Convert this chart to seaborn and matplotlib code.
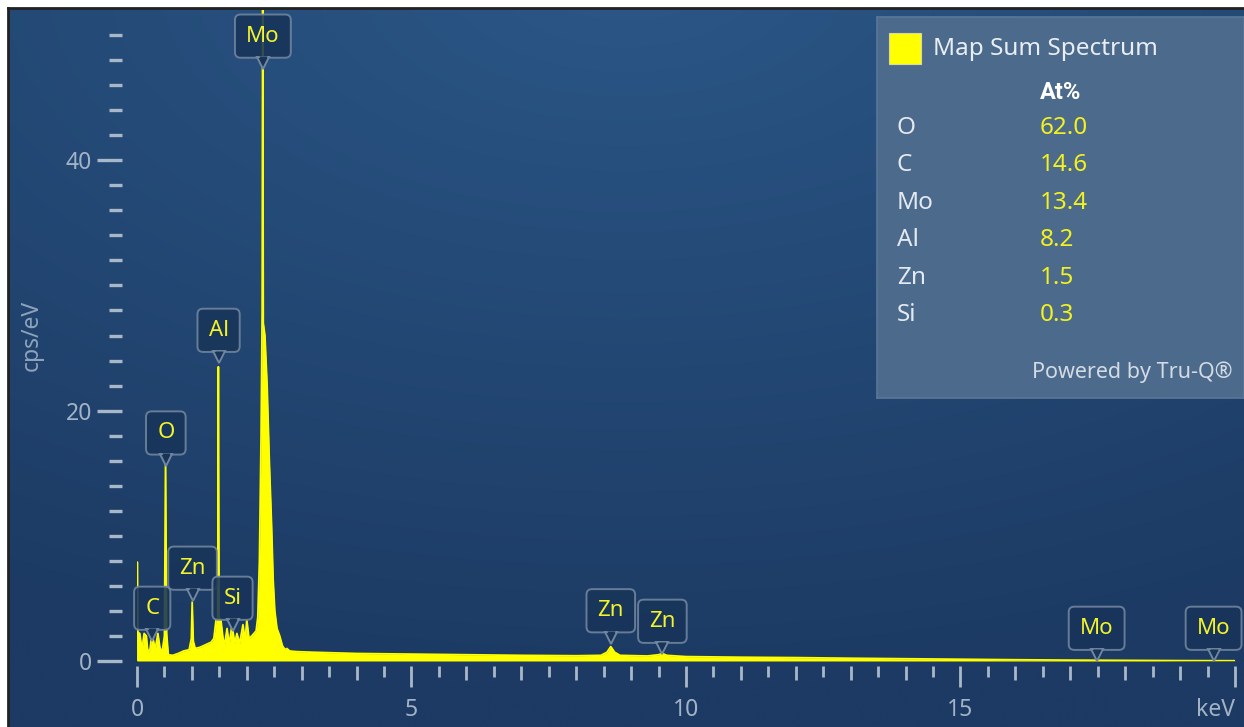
import numpy as np
import matplotlib
matplotlib.use("Agg")
import matplotlib.pyplot as plt
import seaborn as sns
import pandas as pd
from matplotlib.transforms import offset_copy
from matplotlib.patches import Rectangle

# ---------------- data ----------------
energy_kev = [0.000, 0.005, 0.015, 0.050, 0.090, 0.130, 0.170, 0.200, 0.240, 0.270,
              0.300, 0.330, 0.380, 0.420, 0.460, 0.500, 0.520, 0.540, 0.570, 0.650,
              0.750, 0.850, 0.950, 0.990, 1.005, 1.025, 1.060, 1.150, 1.250, 1.350,
              1.400, 1.440, 1.470, 1.482, 1.495, 1.530, 1.570, 1.600, 1.640, 1.680,
              1.730, 1.780, 1.820, 1.870, 1.930, 1.970, 2.000, 2.040, 2.090, 2.130,
              2.170, 2.200, 2.230, 2.260, 2.280, 2.290, 2.300, 2.330, 2.370, 2.410,
              2.450, 2.480, 2.510, 2.550, 2.600, 2.650, 2.700, 2.730, 2.780, 2.900,
              3.200, 3.600, 4.000, 5.000, 6.000, 7.000, 8.000, 8.450, 8.560, 8.630,
              8.700, 8.800, 9.300, 9.500, 9.570, 9.650, 10.00, 11.00, 12.00, 13.00,
              14.00, 15.00, 16.00, 17.00, 18.00, 19.00, 20.00]
cps_per_ev = [0.0, 7.9, 2.3, 2.2, 0.9, 2.2, 2.0, 0.6, 1.0, 2.2,
              1.6, 0.9, 2.2, 1.0, 0.8, 2.0, 16.1, 2.2, 0.5, 0.45,
              0.6, 0.8, 0.9, 1.8, 4.7, 1.6, 1.0, 1.1, 1.3, 1.5,
              1.8, 3.3, 3.4, 23.5, 3.5, 3.2, 1.7, 1.4, 2.6, 1.3,
              2.9, 1.4, 2.2, 1.4, 2.9, 1.6, 3.3, 1.8, 2.0, 2.2,
              2.4, 3.5, 8.0, 18.0, 28.0, 55.0, 27.0, 26.0, 22.0, 16.0,
              11.0, 6.5, 4.0, 2.6, 2.0, 1.2, 0.9, 1.0, 0.8, 0.75,
              0.7, 0.65, 0.6, 0.55, 0.5, 0.45, 0.42, 0.45, 0.7, 1.15,
              0.7, 0.45, 0.4, 0.5, 0.6, 0.45, 0.35, 0.3, 0.27, 0.22,
              0.18, 0.14, 0.1, 0.07, 0.05, 0.03, 0.02]

peak_labels = ["C", "O", "Zn", "Al", "Si", "Mo", "Zn", "Zn", "Mo", "Mo"]
peak_energy = [0.277, 0.525, 1.012, 1.486, 1.740, 2.293, 8.630, 9.570, 17.48, 19.61]
peak_tip_cps = [1.6, 15.6, 4.8, 23.8, 2.4, 47.3, 1.4, 0.56, 0.0, 0.0]

legend_title = "Map Sum Spectrum"
table_header = "At%"
elements = ["O", "C", "Mo", "Al", "Zn", "Si"]
at_percent = ["62.0", "14.6", "13.4", "8.2", "1.5", "0.3"]
footer = "Powered by Tru-Q®"

x_major = [0, 5, 10, 15, 20]
x_major_labels = ["0", "5", "10", "15", "keV"]
y_major = [0, 20, 40]
y_label = "cps/eV"

# ---------------- style ----------------
sns.set_style("white")
plt.rcParams["font.family"] = ["Noto Sans", "DejaVu Sans"]

W, H = 1244, 727
fig = plt.figure(figsize=(W / 100, H / 100), dpi=100, facecolor="white")

YELLOW = "#ffff00"
TICK_C = "#a9b8c9"
LABEL_C = "#a3b3c6"
BOX_FC = "#183459"
BOX_EC = "#71869f"

# background panel with soft gradient
bg = fig.add_axes([8 / W, 0, 1 - 8 / W, (H - 8) / H])
gy, gx = np.mgrid[0:1:300j, 0:1:400j]
d = np.sqrt(((gx - 0.5) / 1.0) ** 2 + ((gy + 0.05) / 0.95) ** 2)
t = np.clip(d / 1.05, 0, 1)[..., None]
c_in = np.array([0x2b, 0x57, 0x87]) / 255
c_out = np.array([0x1c, 0x3a, 0x63]) / 255
img = c_in * (1 - t) + c_out * t
bg.imshow(img, extent=[0, 1, 0, 1], aspect="auto", origin="upper")
bg.set_xlim(0, 1)
bg.set_ylim(0, 1)
bg.set_xticks([])
bg.set_yticks([])
for s in ["right", "bottom"]:
    bg.spines[s].set_visible(False)
for s in ["left", "top"]:
    bg.spines[s].set_color("#222222")
    bg.spines[s].set_linewidth(2)

# main axes
ax = fig.add_axes([137 / W, 66 / H, 1098 / W, 651 / H])
ax.patch.set_alpha(0)

df = pd.DataFrame({"energy": energy_kev, "cps": cps_per_ev})
ax.fill_between(df["energy"], df["cps"], color=YELLOW, lw=0, zorder=2)
sns.lineplot(data=df, x="energy", y="cps", ax=ax, color=YELLOW, lw=1.3, zorder=3)

ax.set_xlim(0, 20)
ax.set_ylim(0, 52)
ax.set_xlabel("")
ax.set_ylabel("")
for s in ax.spines.values():
    s.set_visible(False)
ax.spines["left"].set_position(("outward", 10.8))
ax.spines["bottom"].set_position(("outward", 3.6))

ax.set_xticks(x_major)
ax.set_xticklabels(x_major_labels)
ax.set_xticks(np.arange(0.5, 20, 1.0), minor=True)
ax.set_yticks(y_major)
ax.set_yticks([v for v in range(2, 52, 2) if v not in y_major], minor=True)

ax.tick_params(axis="x", which="major", bottom=True, length=15, width=2.0, color=TICK_C,
               labelcolor=LABEL_C, labelsize=16.5, pad=8, direction="out")
ax.tick_params(axis="x", which="minor", bottom=True, length=8, width=2.0, color=TICK_C,
               direction="out")
ax.tick_params(axis="y", which="major", left=True, length=18, width=2.4, color=TICK_C,
               labelcolor=LABEL_C, labelsize=16.5, pad=3.5, direction="out")
ax.tick_params(axis="y", which="minor", left=True, length=9.4, width=2.4, color=TICK_C,
               direction="out")

# integer ticks (slightly longer than half-keV ticks)
sec = ax.secondary_xaxis("bottom")
for s in sec.spines.values():
    s.set_visible(False)
sec.spines["bottom"].set_position(("outward", 3.6))
sec.set_xticks([v for v in range(1, 20) if v % 5 != 0])
sec.set_xticklabels([])
sec.tick_params(axis="x", which="major", bottom=True, length=10, width=2.0, color=TICK_C,
                direction="out")

fig.text(32 / W, 1 - 335 / H, y_label, rotation=90, ha="center", va="center",
         color="#8ea3bb", fontsize=16.5)

# peak label callouts
m_pt = 8.0
pad_frac = 0.5
fs_peak = 16
tri_tr = offset_copy(ax.transData, fig=fig, x=0, y=m_pt / 2, units="points")
ax.plot(peak_energy, peak_tip_cps, ls="none", marker="v", ms=m_pt, mfc=BOX_FC,
        mec=BOX_EC, mew=1.4, transform=tri_tr, zorder=6, clip_on=False)
tri_tr2 = offset_copy(ax.transData, fig=fig, x=0, y=m_pt - m_pt * 0.7 / 2 + 0.9, units="points")
ax.plot(peak_energy, peak_tip_cps, ls="none", marker="v", ms=m_pt * 0.7, mfc=BOX_FC,
        mec="none", transform=tri_tr2, zorder=7, clip_on=False)
for lab, e, tip in zip(peak_labels, peak_energy, peak_tip_cps):
    ax.annotate(lab, xy=(e, tip), xytext=(0, m_pt + pad_frac * fs_peak),
                textcoords="offset points",
                ha="center", va="bottom", fontsize=fs_peak, color="#f4f42a", zorder=5,
                annotation_clip=False,
                bbox=dict(boxstyle=f"round,pad={pad_frac},rounding_size=0.25", fc=BOX_FC,
                          ec=BOX_EC, lw=1.4, alpha=0.88))

# legend / quantification panel
lx0, ly0, lx1, ly1 = 877, 17, 1244, 398
lax = fig.add_axes([lx0 / W, 1 - ly1 / H, (lx1 - lx0) / W, (ly1 - ly0) / H])
lax.set_facecolor("#4c6a8b")
lax.set_xlim(lx0, lx1)
lax.set_ylim(ly1, ly0)
lax.set_xticks([])
lax.set_yticks([])
for s in lax.spines.values():
    s.set_color("#5b7797")
    s.set_linewidth(1.2)
lax.add_patch(Rectangle((889, 33), 32, 31, fc=YELLOW, ec="#d8d8a0", lw=0.8))
fs_leg = 17.5
lax.text(933, 49, legend_title, ha="left", va="center", fontsize=fs_leg, color="#e9eef4")
lax.text(1040, 92, table_header, ha="left", va="center", fontsize=fs_leg - 0.5,
         color="#ffffff", fontweight="bold", family=["Roboto", "DejaVu Sans"])
for i, (el, v) in enumerate(zip(elements, at_percent)):
    yy = 128 + i * 37.4
    lax.text(897, yy, el, ha="left", va="center", fontsize=fs_leg, color="#e3e9f0")
    lax.text(1040, yy, v, ha="left", va="center", fontsize=fs_leg, color="#f2f21e")
lax.text(1232, 372, footer, ha="right", va="center", fontsize=15.5, color="#d3dbe5")

# keep the last axis label ("keV") inside the picture
ax.get_xticklabels()[-1].set_ha("right")

fig.savefig("out.png", dpi=100, facecolor="white")
